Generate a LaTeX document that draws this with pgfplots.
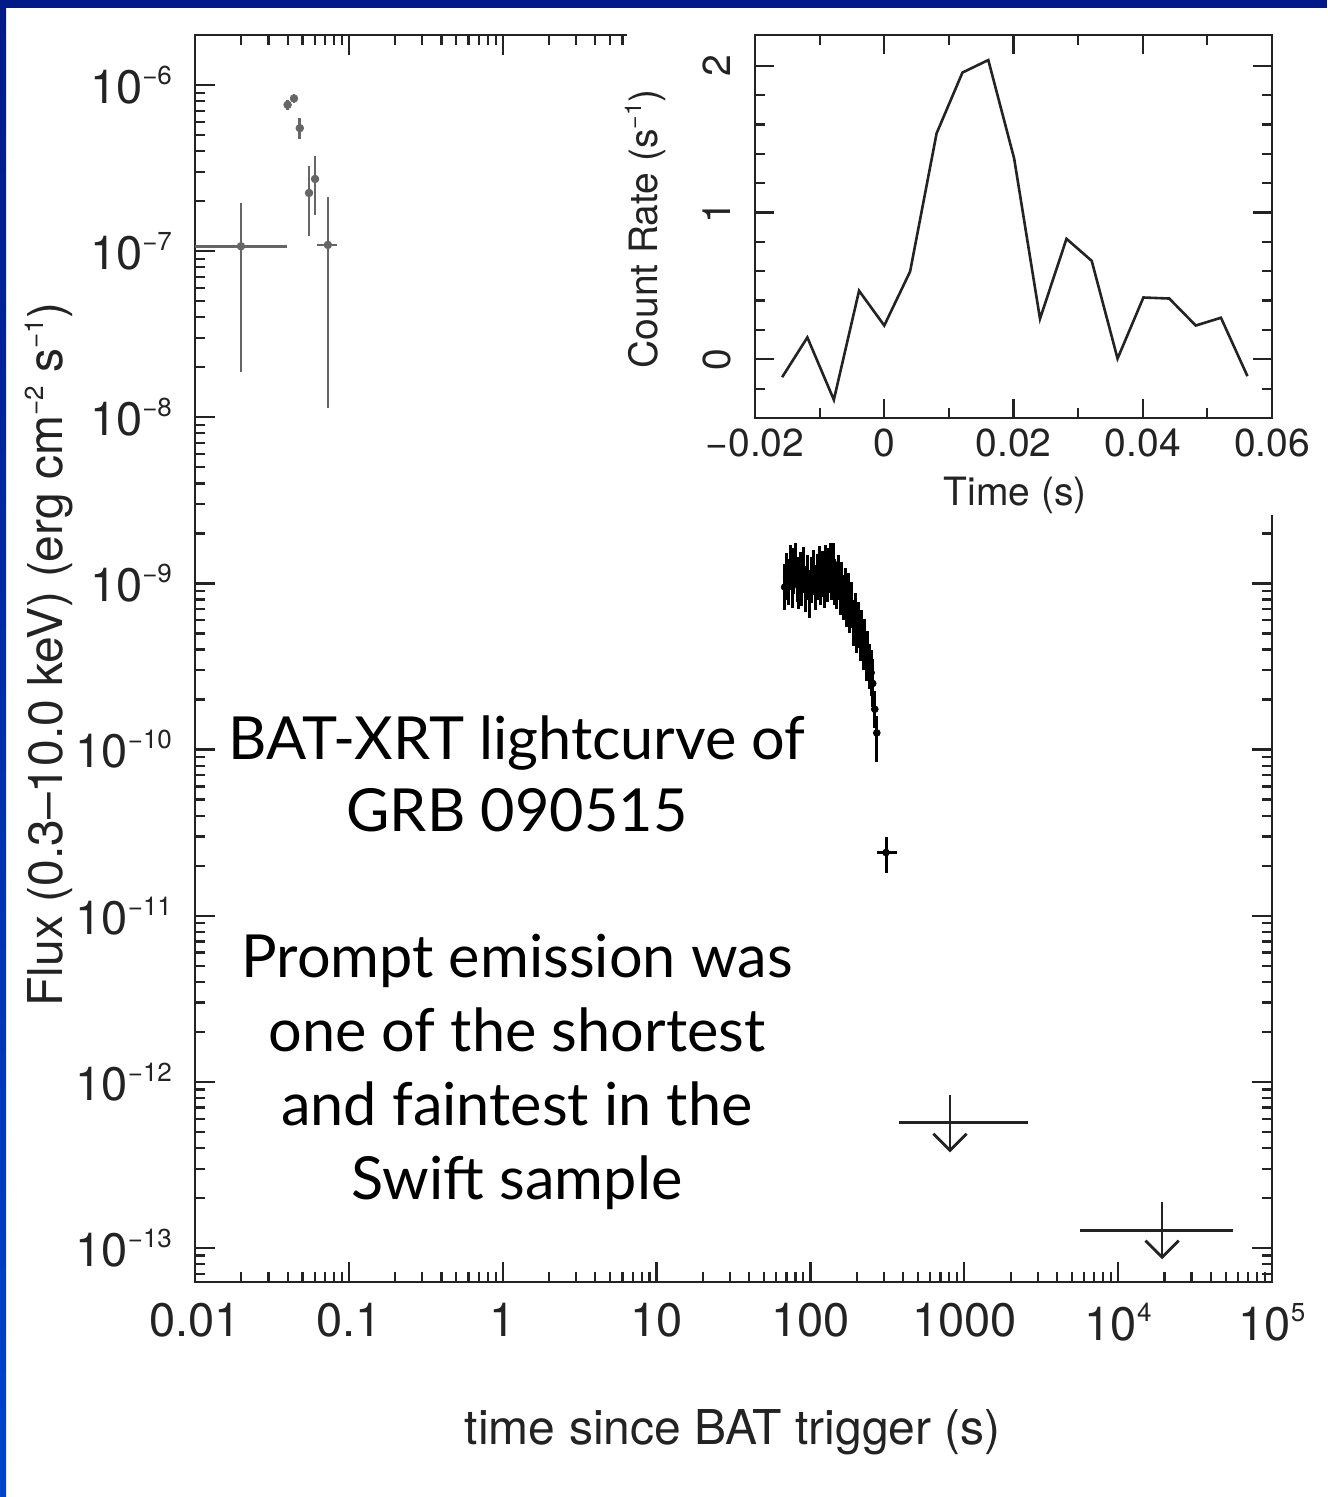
\documentclass[border=0pt]{standalone}
\usepackage{fontspec}
\setmainfont{TeX Gyre Heros}
\newfontfamily\gill{Lato}
\usepackage{pgfplots}
\pgfplotsset{compat=1.18}
\definecolor{navy}{RGB}{0,26,136}
\definecolor{brightblue}{RGB}{0,68,204}
\definecolor{ink}{RGB}{35,35,35}
\newcommand\sups[1]{\raisebox{9.5pt}{\fontsize{13}{13}\selectfont #1}}
\newcommand\supi[1]{\raisebox{8pt}{\fontsize{11.5}{11.5}\selectfont #1}}
\pgfdeclareplotmark{ularrow}{%
  \pgfpathmoveto{\pgfqpoint{-8.3pt}{8.3pt}}%
  \pgfpathlineto{\pgfqpoint{0pt}{0pt}}%
  \pgfpathlineto{\pgfqpoint{8.3pt}{8.3pt}}%
  \pgfusepathqstroke}

\pgfplotstableread{
t     f        tm    tp    fm       fp
68    9.5e-10  1     1     2.6e-10  3.6e-10
70    1.10e-9  1     1     3.0e-10  4.2e-10
72    1.02e-9  1     1     2.8e-10  3.9e-10
74    1.25e-9  1     1     3.4e-10  4.6e-10
76    9.8e-10  1     1     2.7e-10  3.7e-10
78    1.18e-9  1     1     3.2e-10  4.5e-10
80    1.35e-9  1     1     3.6e-10  4.0e-10
82    1.05e-9  1     1     2.8e-10  4.0e-10
84    9.6e-10  1     1     2.6e-10  3.6e-10
86    1.12e-9  1     1     3.0e-10  4.3e-10
88    1.00e-9  1     1     2.7e-10  3.8e-10
90    1.20e-9  1     1     3.2e-10  4.6e-10
93    9.2e-10  1.5   1.5   2.5e-10  3.5e-10
96    1.08e-9  1.5   1.5   2.9e-10  4.1e-10
99    8.8e-10  1.5   1.5   2.6e-10  3.3e-10
102   1.04e-9  1.5   1.5   2.8e-10  4.0e-10
105   1.16e-9  1.5   1.5   3.1e-10  4.4e-10
108   9.4e-10  1.5   1.5   2.5e-10  3.6e-10
111   1.09e-9  1.5   1.5   2.9e-10  4.1e-10
114   1.22e-9  1.5   1.5   3.3e-10  4.6e-10
117   1.01e-9  1.5   1.5   2.7e-10  3.8e-10
120   1.14e-9  1.5   1.5   3.1e-10  4.3e-10
123   9.7e-10  1.5   1.5   2.6e-10  3.7e-10
126   1.24e-9  1.5   1.5   3.3e-10  4.7e-10
129   1.06e-9  1.5   1.5   2.9e-10  4.0e-10
132   1.19e-9  1.5   1.5   3.2e-10  4.5e-10
135   1.38e-9  1.5   1.5   3.7e-10  3.8e-10
138   1.10e-9  1.5   1.5   3.0e-10  4.2e-10
141   1.32e-9  1.5   1.5   3.6e-10  4.2e-10
144   1.02e-9  1.5   1.5   2.8e-10  3.9e-10
148   9.6e-10  2     2     2.6e-10  3.6e-10
152   1.08e-9  2     2     2.9e-10  4.1e-10
156   8.9e-10  2     2     2.4e-10  3.4e-10
160   9.7e-10  2     2     2.6e-10  3.7e-10
164   8.2e-10  2     2     2.2e-10  3.1e-10
168   9.0e-10  2     2     2.4e-10  3.4e-10
172   7.6e-10  2     2     2.1e-10  2.9e-10
176   8.3e-10  2     2     2.2e-10  3.2e-10
180   6.9e-10  2     2     1.9e-10  2.6e-10
185   7.4e-10  2.5   2.5   2.0e-10  2.8e-10
190   5.8e-10  2.5   2.5   1.6e-10  2.2e-10
195   6.3e-10  2.5   2.5   1.7e-10  2.4e-10
200   5.2e-10  2.5   2.5   1.4e-10  2.0e-10
205   5.6e-10  2.5   2.5   1.5e-10  2.1e-10
210   4.7e-10  2.5   2.5   1.3e-10  1.8e-10
215   5.0e-10  2.5   2.5   1.4e-10  1.9e-10
220   4.1e-10  2.5   2.5   1.1e-10  1.6e-10
225   4.4e-10  2.5   2.5   1.2e-10  1.7e-10
230   3.6e-10  2.5   2.5   1.0e-10  1.4e-10
236   3.8e-10  3     3     1.0e-10  1.4e-10
242   3.1e-10  3     3     0.8e-10  1.2e-10
248   2.9e-10  3     3     0.8e-10  1.1e-10
254   2.5e-10  3     3     0.7e-10  1.0e-10
262   1.75e-10 3     3     0.40e-10 0.50e-10
270   1.26e-10 3     3     0.42e-10 0.34e-10
310   2.4e-11  39    56    0.6e-11  0.57e-11
}\xrt

\pgfplotstableread{
t       f        tm      tp      fm        fp
0.0199  1.07e-7  0.0099  0.0197  8.83e-8   8.8e-8
0.0400  7.6e-7   0.0015  0.0015  0.5e-7    0.5e-7
0.0440  8.3e-7   0.0015  0.0015  0.5e-7    0.5e-7
0.0480  5.5e-7   0.0008  0.0008  0.8e-7    0.8e-7
0.0551  2.24e-7  0.0025  0.0030  1.01e-7   1.01e-7
0.0603  2.72e-7  0.0025  0.0030  1.07e-7   1.02e-7
0.0731  1.09e-7  0.0111  0.0106  0.977e-7  1.03e-7
}\bat

\pgfplotstableread{
t      f        tm     tp     fm       fp
807    5.71e-13 430    1787   1.84e-13 2.59e-13
19300  1.28e-13 13650  36400  0.40e-13 0.60e-13
}\ul

\pgfplotstableread{
t        c
-0.0158  -0.122
-0.0119   0.149
-0.0078  -0.276
-0.0039   0.467
 0.0000   0.230
 0.0040   0.598
 0.0081   1.54
 0.0121   1.954
 0.0161   2.039
 0.0201   1.368
 0.0241   0.276
 0.0282   0.821
 0.0321   0.671
 0.0361   0.005
 0.0401   0.421
 0.0441   0.414
 0.0482   0.230
 0.0521   0.283
 0.0562  -0.115
}\inset

\begin{document}
\begin{tikzpicture}
\path[use as bounding box, fill=white] (0,0) rectangle (663.5pt,748.5pt);
\begin{axis}[
  at={(97.5pt,107.5pt)}, anchor=south west,
  scale only axis, width=538.5pt, height=623.5pt,
  xmode=log, ymode=log,
  xmin=0.01, xmax=1e5, ymin=6.24e-14, ymax=2.0e-6,
  axis line style={line width=1.4pt, ink},
  tick style={line width=1.1pt, ink},
  major tick length=10pt, minor tick length=5pt,
  tick align=inside,
  xtick={0.01,0.1,1,10,100,1000,10000,100000},
  xticklabels={0.01,0.1,1,10,100,1000,10\sups{4},10\sups{5}},
  minor xtick={0.02,0.03,0.04,0.05,0.06,0.07,0.08,0.09,
    0.2,0.3,0.4,0.5,0.6,0.7,0.8,0.9,
    2,3,4,5,6,7,8,9,
    20,30,40,50,60,70,80,90,
    200,300,400,500,600,700,800,900,
    2000,3000,4000,5000,6000,7000,8000,9000,
    20000,30000,40000,50000,60000,70000,80000,90000},
  ytick={1e-13,1e-12,1e-11,1e-10,1e-9,1e-8,1e-7,1e-6},
  yticklabels={10\sups{−13},10\sups{−12},10\sups{−11},10\sups{−10},10\sups{−9},10\sups{−8},10\sups{−7},10\sups{−6}},
  minor ytick={7e-14,8e-14,9e-14,
    2e-13,3e-13,4e-13,5e-13,6e-13,7e-13,8e-13,9e-13,
    2e-12,3e-12,4e-12,5e-12,6e-12,7e-12,8e-12,9e-12,
    2e-11,3e-11,4e-11,5e-11,6e-11,7e-11,8e-11,9e-11,
    2e-10,3e-10,4e-10,5e-10,6e-10,7e-10,8e-10,9e-10,
    2e-9,3e-9,4e-9,5e-9,6e-9,7e-9,8e-9,9e-9,
    2e-8,3e-8,4e-8,5e-8,6e-8,7e-8,8e-8,9e-8,
    2e-7,3e-7,4e-7,5e-7,6e-7,7e-7,8e-7,9e-7},
  tick label style={font=\fontsize{23.5}{27}\selectfont, text=ink},
  yticklabel style={xshift=-8pt},
  xticklabel style={yshift=-7pt},
  xlabel={time since BAT trigger (s)},
  ylabel={Flux (0.3–10.0 keV) (erg cm\sups{−2} s\sups{−1})},
  label style={font=\fontsize{24}{28}\selectfont, text=ink},
  xlabel style={at={(axis description cs:0.4995,-0.1203)}, anchor=center},
  ylabel style={at={(axis description cs:-0.136,0.503)}, anchor=center},
  clip=false,
]
\addplot[black!60, only marks, mark=*, mark size=1.9pt,
  error bars/.cd, x dir=both, x explicit, y dir=both, y explicit,
  error mark=none, error bar style={line width=1.4pt, black!60}]
  table[x=t, y=f, x error minus=tm, x error plus=tp, y error minus=fm, y error plus=fp] {\bat};
\addplot[black, only marks, mark=*, mark size=1.7pt,
  error bars/.cd, x dir=both, x explicit, y dir=both, y explicit,
  error mark=none, error bar style={line width=1.5pt, black}]
  table[x=t, y=f, x error minus=tm, x error plus=tp, y error minus=fm, y error plus=fp] {\xrt};
\addplot[ink, draw=none, mark=none, mark size=0pt,
  error bars/.cd, x dir=both, x explicit, y dir=both, y explicit,
  error mark=none, error bar style={line width=1.4pt, ink}]
  table[x=t, y=f, x error minus=tm, x error plus=tp, y error minus=fm, y error plus=fp] {\ul};
\addplot[ink, only marks, mark=ularrow, mark options={line width=1.4pt}]
  coordinates {(807,3.87e-13) (19300,8.8e-14)};
\end{axis}
\fill[white] (313.5pt,491pt) rectangle (663.5pt,748.5pt);
\begin{axis}[
  at={(377.5pt,539.5pt)}, anchor=south west,
  scale only axis, width=258.5pt, height=191.5pt,
  xmin=-0.02, xmax=0.06, ymin=-0.40, ymax=2.21,
  scaled ticks=false,
  axis line style={line width=1.4pt, ink},
  tick style={line width=1.1pt, ink},
  major tick length=9.5pt, minor tick length=5pt,
  tick align=inside,
  xtick={-0.02,0,0.02,0.04,0.06},
  xticklabels={−0.02,0,0.02,0.04,0.06},
  minor xtick={-0.01,0.01,0.03,0.05},
  ytick={0,1,2}, yticklabels={0,1,2},
  minor ytick={-0.2,0.2,0.4,0.6,0.8,1.2,1.4,1.6,1.8},
  tick label style={font=\fontsize{19.5}{23}\selectfont, text=ink},
  xticklabel style={yshift=-2pt},
  yticklabel style={rotate=90, anchor=south, inner ysep=12pt},
  xlabel={Time (s)},
  ylabel={Count Rate (s\supi{−1})},
  label style={font=\fontsize{19.5}{23}\selectfont, text=ink},
  xlabel style={at={(axis description cs:0.503,-0.201)}, anchor=center},
  ylabel style={at={(axis description cs:-0.2128,0.493)}, anchor=center},
]
\addplot[ink, line width=1.3pt, mark=none] table[x=t, y=c] {\inset};
\end{axis}
\node[align=center, font=\gill\fontsize{29.7}{36}\selectfont, text=black] at (258.5pt,361.5pt)
  {BAT-XRT lightcurve of\\GRB 090515};
\node[align=center, font=\gill\fontsize{29.7}{37}\selectfont, text=black] at (258.5pt,212.75pt)
  {Prompt emission was\\one of the shortest\\and faintest in the\\Swift sample};
\fill[navy] (0,744.5pt) rectangle (663.5pt,748.5pt);
\shade[top color=navy, bottom color=brightblue] (0,0) rectangle (3pt,744.5pt);
\end{tikzpicture}
\end{document}
